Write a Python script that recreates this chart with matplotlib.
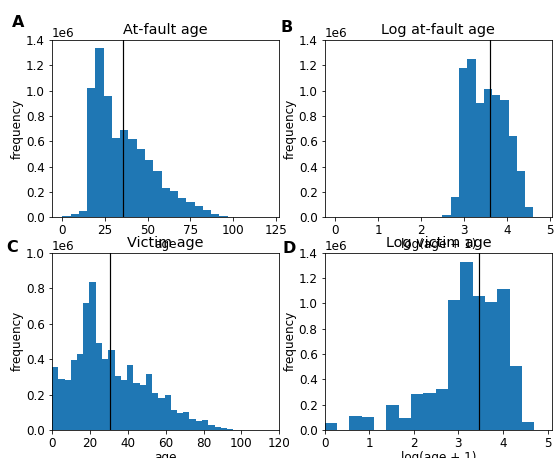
import numpy as np
import matplotlib
matplotlib.use("Agg")
import matplotlib.pyplot as plt

# ---- data (frequencies in millions) ----
at_fault_counts = [0.008, 0.024, 0.05, 1.017, 1.337, 0.96, 0.63, 0.692, 0.616, 0.54,
                   0.456, 0.367, 0.231, 0.21, 0.155, 0.118, 0.092, 0.06, 0.029, 0.01,
                   0.003, 0.001, 0.0005, 0.0003, 0.0002]
at_fault_range = (0, 121)
at_fault_mean = 35.7

log_at_fault_counts = [0, 0, 0, 0, 0, 0, 0, 0, 0, 0.0005,
                       0.002, 0.005, 0.006, 0.015, 0.157, 1.177, 1.248, 0.905, 1.015, 0.967,
                       0.928, 0.642, 0.362, 0.084, 0.0]
log_at_fault_range = (0, 4.8)
log_at_fault_mean = 3.61

victim_counts = [0.356, 0.289, 0.283, 0.396, 0.43, 0.717, 0.837, 0.49, 0.403, 0.454,
                 0.306, 0.283, 0.368, 0.265, 0.255, 0.317, 0.21, 0.178, 0.199, 0.114,
                 0.098, 0.101, 0.062, 0.053, 0.056, 0.03, 0.019, 0.011, 0.006, 0.002]
victim_range = (0, 99)
victim_mean = 30.6

log_victim_counts = [0.053, 0.0, 0.11, 0.10, 0.0, 0.194, 0.095, 0.286, 0.29, 0.32,
                     1.03, 1.324, 1.061, 1.011, 1.111, 0.504, 0.066]
log_victim_range = (0, 4.70)
log_victim_mean = 3.47

titles = ["At-fault age", "Log at-fault age", "Victim age", "Log victim age"]
xlabels = ["age", "log(age + 1)", "age", "log(age + 1)"]
letters = ["A", "B", "C", "D"]

plt.rcParams["font.size"] = 12

DPI = 72
fig = plt.figure(figsize=(554 / DPI, 458 / DPI), dpi=DPI)
axes = fig.subplots(2, 2)
fig.subplots_adjust(left=52 / 554, right=552 / 554, top=1 - 40 / 458,
                    bottom=1 - 430 / 458, wspace=0.2, hspace=0.2)

panels = [
    (axes[0, 0], at_fault_counts, at_fault_range, at_fault_mean),
    (axes[0, 1], log_at_fault_counts, log_at_fault_range, log_at_fault_mean),
    (axes[1, 0], victim_counts, victim_range, victim_mean),
    (axes[1, 1], log_victim_counts, log_victim_range, log_victim_mean),
]

for i, (ax, counts, rng, mean) in enumerate(panels):
    heights = np.array(counts) * 1e6
    edges = np.linspace(rng[0], rng[1], len(counts) + 1)
    centers = (edges[:-1] + edges[1:]) / 2
    ax.hist(centers, bins=edges, weights=heights, color="#1f77b4")
    ax.axvline(mean, color="black", linewidth=1.2)
    ax.set_title(titles[i])
    ax.set_xlabel(xlabels[i], labelpad=1)
    ax.set_ylabel("frequency", labelpad=2)

axes[0, 0].set_ylim(0, 1.4e6)
axes[0, 1].set_ylim(0, 1.4e6)
axes[1, 0].set_ylim(0, 1.0e6)
axes[1, 1].set_ylim(0, 1.4e6)
axes[0, 0].set_xticks([0, 25, 50, 75, 100, 125])
axes[1, 0].set_xlim(0, 120)
axes[1, 1].set_xlim(0, 5.1)

letter_pos = [(12, 27), (281, 32), (6, 252), (282, 253)]
for (x, y), L in zip(letter_pos, letters):
    fig.text(x / 554, 1 - y / 458, L, fontsize=16, fontweight="bold",
             ha="left", va="baseline")

fig.savefig("out.png", dpi=DPI)
